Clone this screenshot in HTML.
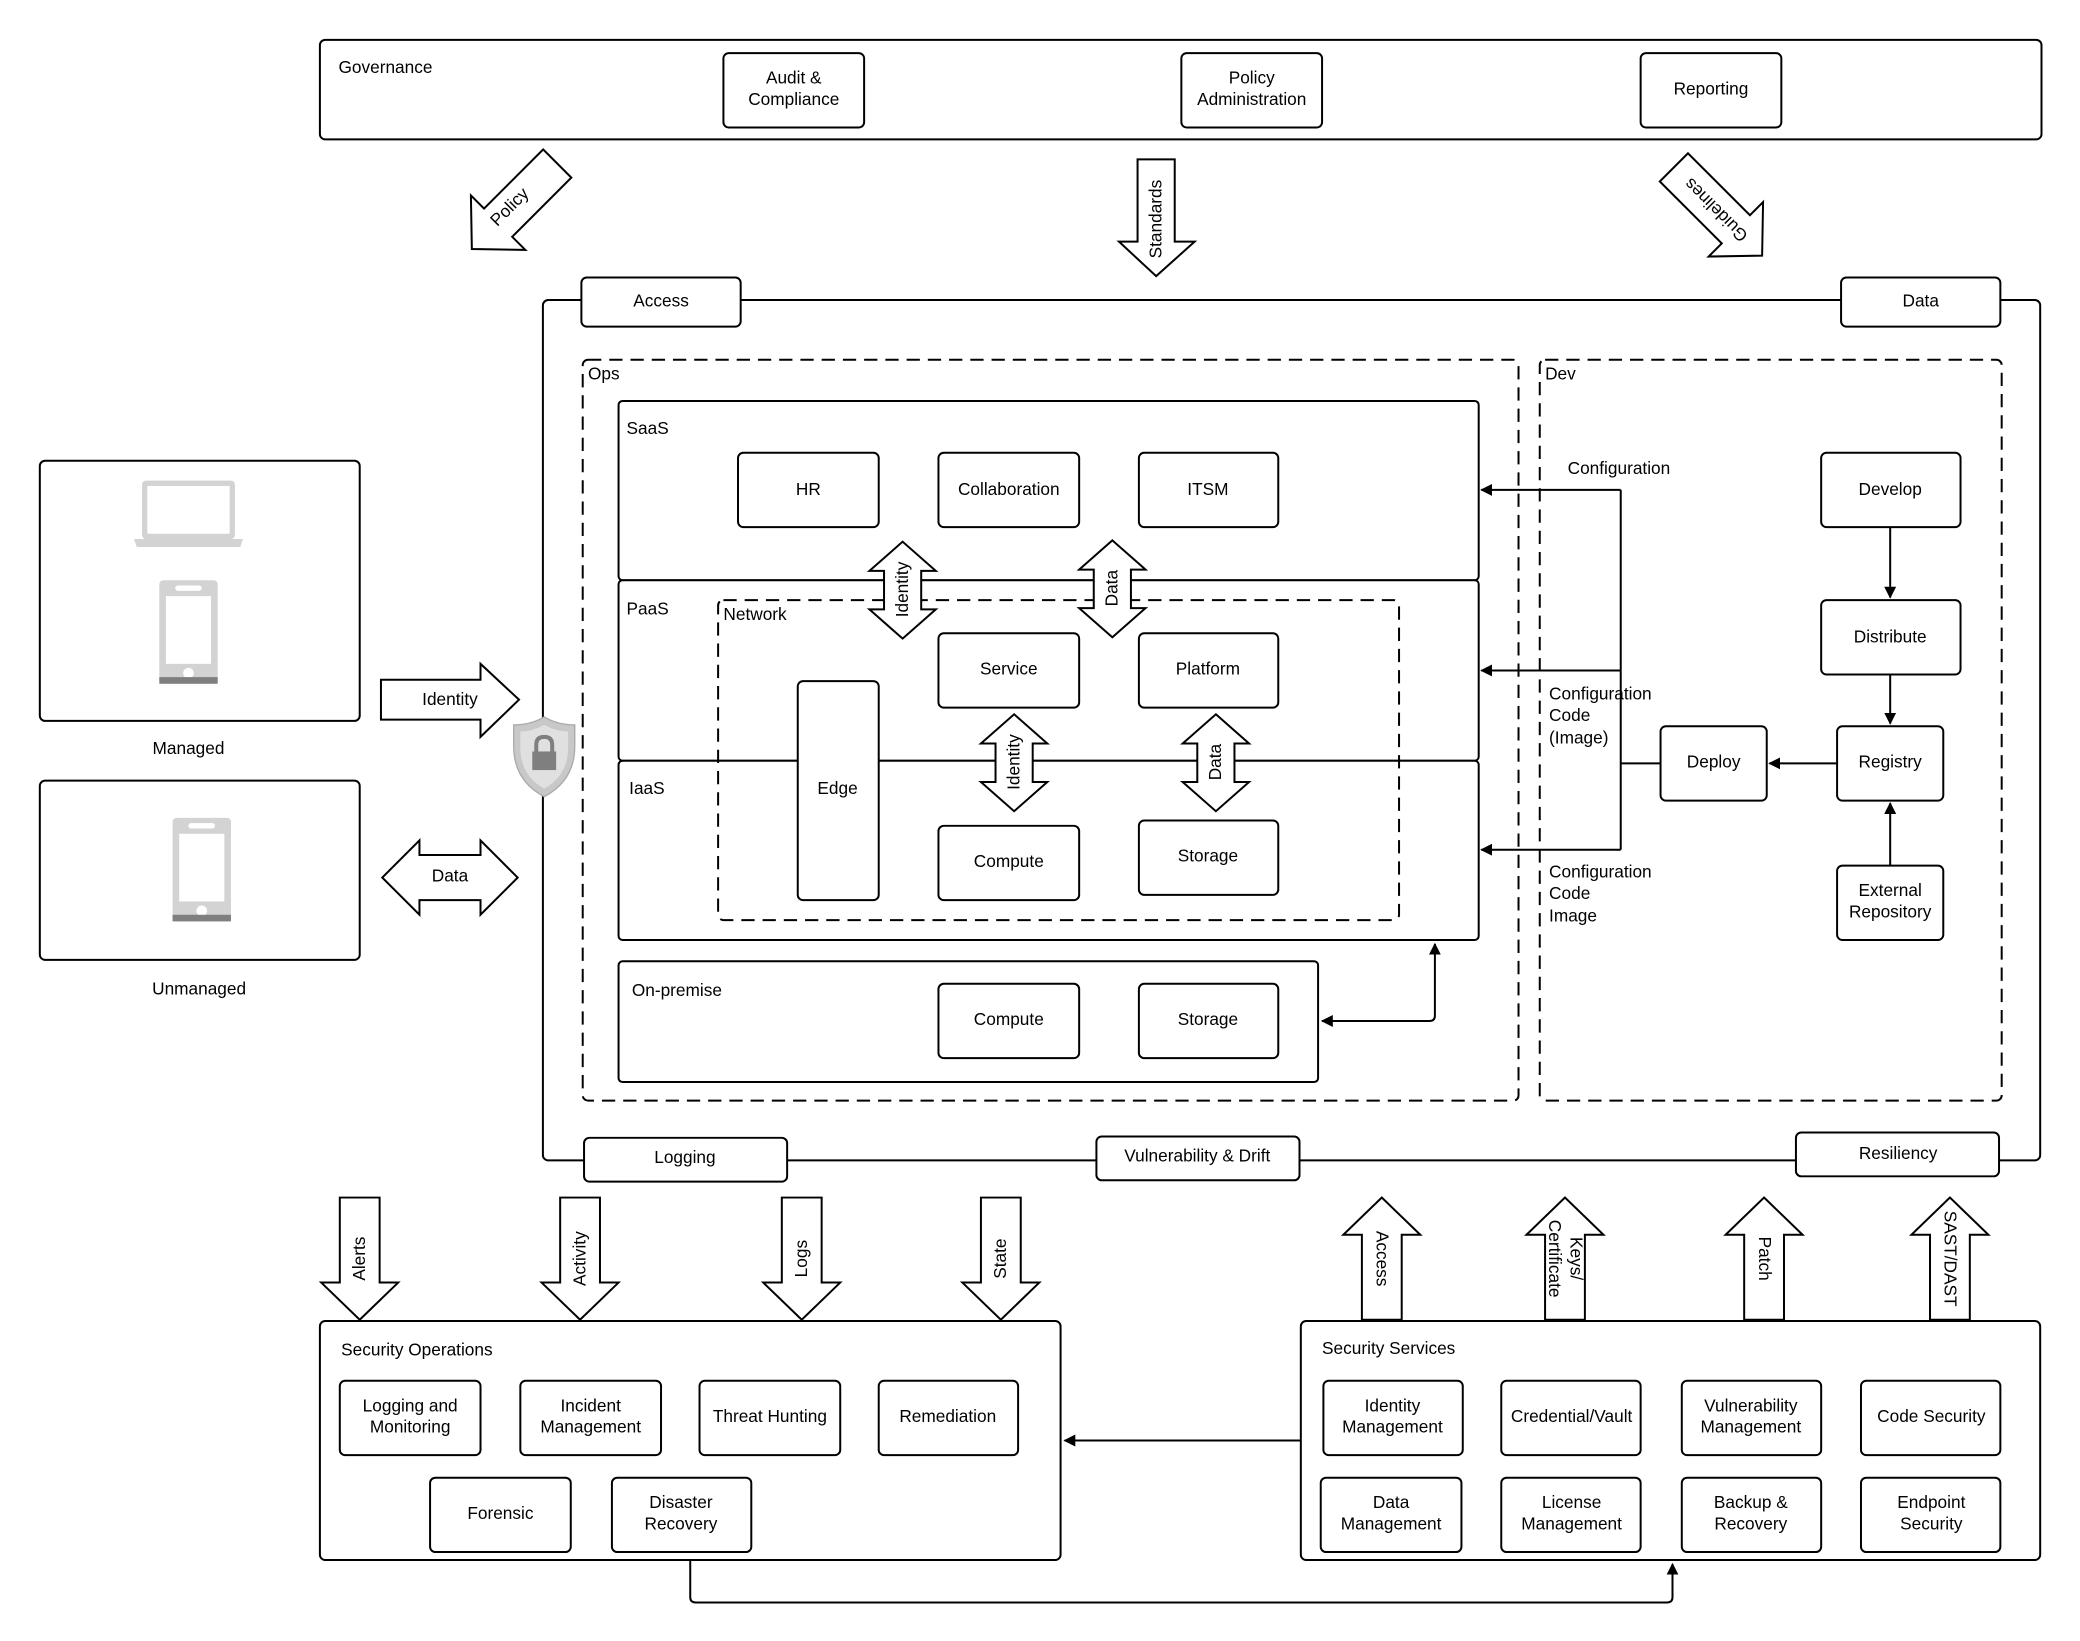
<!DOCTYPE html>
<html><head><meta charset="utf-8"><style>
html,body{margin:0;padding:0;background:#fff}
svg{display:block}
text{font-family:"Liberation Sans",Arial,sans-serif;font-size:13px;fill:#000}
</style></head><body>
<svg width="2080" height="1641" viewBox="0 0 1567 1236" preserveAspectRatio="none" xmlns="http://www.w3.org/2000/svg">
<defs>
<marker id="ah" viewBox="0 0 10 10" refX="9" refY="5" markerWidth="9" markerHeight="9" markerUnits="userSpaceOnUse" orient="auto"><path d="M0,0 L10,5 L0,10 Z" fill="#000"/></marker>
</defs>
<g fill="#fff" stroke="#000" stroke-width="1.5">
<rect x="241" y="30" width="1297" height="75" rx="4"/>
<rect x="545" y="40" width="106" height="56" rx="4"/>
<rect x="890" y="40" width="106" height="56" rx="4"/>
<rect x="1236" y="40" width="106" height="56" rx="4"/>
<g transform="translate(388,155) rotate(45)"><path d="M-15,-45 L15,-45 L15,18 L29,18 L0,46 L-29,18 L-15,18 Z"/></g>
<path d="M857,120 L885,120 L885,182 L900,182 L871,208 L843,182 L857,182 Z"/>
<g transform="translate(1295,160) rotate(-45)"><path d="M-15,-48 L15,-48 L15,18 L29,18 L0,46 L-29,18 L-15,18 Z"/></g>
<rect x="409" y="226" width="1128" height="648" rx="4"/>
<rect x="438" y="209" width="120" height="37" rx="4"/>
<rect x="1387" y="209" width="120" height="37" rx="4"/>
<rect x="440" y="857" width="153" height="33" rx="4"/>
<rect x="826" y="856" width="153" height="33" rx="4"/>
<rect x="1353" y="853" width="153" height="33" rx="4"/>
<rect x="439" y="271" width="705" height="558" rx="4" stroke-dasharray="10,6"/>
<rect x="1160" y="271" width="348" height="558" rx="4" stroke-dasharray="10,6"/>
<rect x="466" y="302" width="648" height="135" rx="3"/>
<rect x="466" y="437" width="648" height="136" rx="3"/>
<rect x="466" y="573" width="648" height="135" rx="3"/>
<rect x="556" y="341" width="106" height="56" rx="4"/>
<rect x="707" y="341" width="106" height="56" rx="4"/>
<rect x="858" y="341" width="105" height="56" rx="4"/>
<rect x="541" y="452" width="513" height="241" rx="4" stroke-dasharray="10,6" fill="none"/>
<rect x="601" y="513" width="61" height="165" rx="4"/>
<rect x="707" y="477" width="106" height="56" rx="4"/>
<rect x="858" y="477" width="105" height="56" rx="4"/>
<rect x="707" y="622" width="106" height="56" rx="4"/>
<rect x="858" y="618" width="105" height="56" rx="4"/>
<rect x="466" y="724" width="527" height="91" rx="3"/>
<rect x="707" y="741" width="106" height="56" rx="4"/>
<rect x="858" y="741" width="105" height="56" rx="4"/>
<path d="M680,408 L705,430 L694,430 L694,459 L705,459 L680,481 L655,459 L666,459 L666,430 L655,430 Z"/>
<path d="M838,407 L863,429 L852,429 L852,458 L863,458 L838,480 L813,458 L824,458 L824,429 L813,429 Z"/>
<path d="M764,538 L789,560 L778,560 L778,589 L789,589 L764,611 L739,589 L750,589 L750,560 L739,560 Z"/>
<path d="M916,538 L941,560 L930,560 L930,589 L941,589 L916,611 L891,589 L902,589 L902,560 L891,560 Z"/>
<rect x="1372" y="341" width="105" height="56" rx="4"/>
<rect x="1372" y="452" width="105" height="56" rx="4"/>
<rect x="1384" y="547" width="80" height="56" rx="4"/>
<rect x="1251" y="547" width="80" height="56" rx="4"/>
<rect x="1384" y="652" width="80" height="56" rx="4"/>
<rect x="30" y="347" width="241" height="196" rx="4"/>
<rect x="30" y="588" width="241" height="135" rx="4"/>
<path d="M287,512 L362,512 L362,500 L391,527 L362,555 L362,542 L287,542 Z"/>
<path d="M288,661 L316,633 L316,644 L362,644 L362,633 L390,661 L362,689 L362,678 L316,678 L316,689 Z"/>
<path d="M256,902 L286,902 L286,966 L300,966 L271,994 L242,966 L256,966 Z"/>
<path d="M422,902 L452,902 L452,966 L466,966 L437,994 L408,966 L422,966 Z"/>
<path d="M589,902 L619,902 L619,966 L633,966 L604,994 L575,966 L589,966 Z"/>
<path d="M739,902 L769,902 L769,966 L783,966 L754,994 L725,966 L739,966 Z"/>
<path d="M1026,994 L1056,994 L1056,930 L1070,930 L1041,902 L1012,930 L1026,930 Z"/>
<path d="M1164,994 L1194,994 L1194,930 L1208,930 L1179,902 L1150,930 L1164,930 Z"/>
<path d="M1314,994 L1344,994 L1344,930 L1358,930 L1329,902 L1300,930 L1314,930 Z"/>
<path d="M1454,994 L1484,994 L1484,930 L1498,930 L1469,902 L1440,930 L1454,930 Z"/>
<rect x="241" y="995" width="558" height="180" rx="4"/>
<rect x="980" y="995" width="557" height="180" rx="4"/>
<rect x="256" y="1040" width="106" height="56" rx="4"/>
<rect x="392" y="1040" width="106" height="56" rx="4"/>
<rect x="527" y="1040" width="106" height="56" rx="4"/>
<rect x="662" y="1040" width="105" height="56" rx="4"/>
<rect x="324" y="1113" width="106" height="56" rx="4"/>
<rect x="461" y="1113" width="105" height="56" rx="4"/>
<rect x="997" y="1040" width="105" height="56" rx="4"/>
<rect x="1131" y="1040" width="105" height="56" rx="4"/>
<rect x="1267" y="1040" width="105" height="56" rx="4"/>
<rect x="1402" y="1040" width="105" height="56" rx="4"/>
<rect x="995" y="1113" width="106" height="56" rx="4"/>
<rect x="1131" y="1113" width="105" height="56" rx="4"/>
<rect x="1267" y="1113" width="105" height="56" rx="4"/>
<rect x="1402" y="1113" width="105" height="56" rx="4"/>
</g>
<g fill="none" stroke="#000" stroke-width="1.5">
<path d="M1251,575 L1221,575"/>
<path d="M1221,369 L1221,640"/>
<path d="M1221,369 L1116,369" marker-end="url(#ah)"/>
<path d="M1221,505 L1116,505" marker-end="url(#ah)"/>
<path d="M1221,640 L1116,640" marker-end="url(#ah)"/>
<path d="M1424,397 L1424,450" marker-end="url(#ah)"/>
<path d="M1424,508 L1424,545" marker-end="url(#ah)"/>
<path d="M1384,575 L1333,575" marker-end="url(#ah)"/>
<path d="M1424,652 L1424,605" marker-end="url(#ah)"/>
<path d="M1081,740 L1081,711" marker-end="url(#ah)"/>
<path d="M1081,740 L1081,765 Q1081,769 1077,769 L996,769" marker-end="url(#ah)"/>
<path d="M980,1085 L802,1085" marker-end="url(#ah)"/>
<path d="M520,1175 L520,1203 Q520,1207 524,1207 L1256,1207 Q1260,1207 1260,1203 L1260,1178" marker-end="url(#ah)"/>
</g>
<g fill="#d3d3d3">
<rect x="107" y="362" width="70" height="44" rx="3"/>
<rect x="111" y="366" width="62" height="36" fill="#fff"/>
<path d="M101,406 L183,406 L181,412 L103,412 Z"/>
<rect x="120" y="437" width="44" height="78" rx="3"/>
<rect x="125" y="449" width="34" height="51" fill="#fff"/>
<rect x="132" y="441" width="20" height="4" rx="2" fill="#fff"/>
<circle cx="142" cy="507" r="4" fill="#fff"/>
<rect x="120" y="510" width="44" height="5" fill="#7f7f7f"/>
<rect x="130" y="616" width="44" height="78" rx="3"/>
<rect x="135" y="628" width="34" height="51" fill="#fff"/>
<rect x="142" y="620" width="20" height="4" rx="2" fill="#fff"/>
<circle cx="152" cy="686" r="4" fill="#fff"/>
<rect x="130" y="689" width="44" height="5" fill="#7f7f7f"/>
</g>
<path d="M410,540 Q420,546 433,546 L433,562 Q433,588 410,600 Q387,588 387,562 L387,546 Q400,546 410,540 Z" fill="#c8c8c8" stroke="#aaa" stroke-width="1"/>
<path d="M410,546 Q419,551 428,551 L428,563 Q428,584 410,594 Q392,584 392,563 L392,551 Q401,551 410,546 Z" fill="#e0e0e0"/>
<rect x="401" y="566" width="18" height="14" fill="#7f7f7f"/>
<path d="M404,566 L404,561 Q404,555 410,555 Q416,555 416,561 L416,566" fill="none" stroke="#7f7f7f" stroke-width="3"/>
<g>
<text x="255" y="55">Governance</text>
<text x="598" y="63" text-anchor="middle">Audit &amp;</text>
<text x="598" y="79" text-anchor="middle">Compliance</text>
<text x="943" y="63" text-anchor="middle">Policy</text>
<text x="943" y="79" text-anchor="middle">Administration</text>
<text x="1289" y="71" text-anchor="middle">Reporting</text>
<text transform="translate(384,156) rotate(-45)" text-anchor="middle" dy="4">Policy</text>
<text transform="translate(871,165) rotate(-90)" text-anchor="middle" dy="4">Standards</text>
<text transform="translate(1293,158) rotate(225)" text-anchor="middle" dy="4">Guidelines</text>
<text x="498" y="231" text-anchor="middle">Access</text>
<text x="1447" y="231" text-anchor="middle">Data</text>
<text x="443" y="286">Ops</text>
<text x="1164" y="286">Dev</text>
<text x="472" y="327">SaaS</text>
<text x="472" y="463">PaaS</text>
<text x="474" y="598">IaaS</text>
<text x="545" y="467">Network</text>
<text x="609" y="373" text-anchor="middle">HR</text>
<text x="760" y="373" text-anchor="middle">Collaboration</text>
<text x="910" y="373" text-anchor="middle">ITSM</text>
<text x="760" y="508" text-anchor="middle">Service</text>
<text x="910" y="508" text-anchor="middle">Platform</text>
<text x="631" y="598" text-anchor="middle">Edge</text>
<text x="760" y="653" text-anchor="middle">Compute</text>
<text x="910" y="649" text-anchor="middle">Storage</text>
<text x="476" y="750">On-premise</text>
<text x="760" y="772" text-anchor="middle">Compute</text>
<text x="910" y="772" text-anchor="middle">Storage</text>
<text transform="translate(680,444) rotate(-90)" text-anchor="middle" dy="4">Identity</text>
<text transform="translate(838,443) rotate(-90)" text-anchor="middle" dy="4">Data</text>
<text transform="translate(764,574) rotate(-90)" text-anchor="middle" dy="4">Identity</text>
<text transform="translate(916,574) rotate(-90)" text-anchor="middle" dy="4">Data</text>
<text x="1181" y="357">Configuration</text>
<text x="1167" y="527">Configuration</text>
<text x="1167" y="543">Code</text>
<text x="1167" y="560">(Image)</text>
<text x="1167" y="661">Configuration</text>
<text x="1167" y="677">Code</text>
<text x="1167" y="694">Image</text>
<text x="1424" y="373" text-anchor="middle">Develop</text>
<text x="1424" y="484" text-anchor="middle">Distribute</text>
<text x="1424" y="578" text-anchor="middle">Registry</text>
<text x="1291" y="578" text-anchor="middle">Deploy</text>
<text x="1424" y="675" text-anchor="middle">External</text>
<text x="1424" y="691" text-anchor="middle">Repository</text>
<text x="142" y="568" text-anchor="middle">Managed</text>
<text x="150" y="749" text-anchor="middle">Unmanaged</text>
<text x="339" y="531" text-anchor="middle">Identity</text>
<text x="339" y="664" text-anchor="middle">Data</text>
<text x="516" y="876" text-anchor="middle">Logging</text>
<text x="902" y="875" text-anchor="middle">Vulnerability &amp; Drift</text>
<text x="1430" y="873" text-anchor="middle">Resiliency</text>
<text transform="translate(271,948) rotate(-90)" text-anchor="middle" dy="4">Alerts</text>
<text transform="translate(437,948) rotate(-90)" text-anchor="middle" dy="4">Activity</text>
<text transform="translate(604,948) rotate(-90)" text-anchor="middle" dy="4">Logs</text>
<text transform="translate(754,948) rotate(-90)" text-anchor="middle" dy="4">State</text>
<text transform="translate(1041,948) rotate(90)" text-anchor="middle" dy="4">Access</text>
<text transform="translate(1171,948) rotate(90)" text-anchor="middle" dy="4">Certificate</text>
<text transform="translate(1187,948) rotate(90)" text-anchor="middle" dy="4">Keys/</text>
<text transform="translate(1329,948) rotate(90)" text-anchor="middle" dy="4">Patch</text>
<text transform="translate(1469,948) rotate(90)" text-anchor="middle" dy="4">SAST/DAST</text>
<text x="257" y="1021">Security Operations</text>
<text x="996" y="1020">Security Services</text>
<text x="309" y="1063" text-anchor="middle">Logging and</text>
<text x="309" y="1079" text-anchor="middle">Monitoring</text>
<text x="445" y="1063" text-anchor="middle">Incident</text>
<text x="445" y="1079" text-anchor="middle">Management</text>
<text x="580" y="1071" text-anchor="middle">Threat Hunting</text>
<text x="714" y="1071" text-anchor="middle">Remediation</text>
<text x="377" y="1144" text-anchor="middle">Forensic</text>
<text x="513" y="1136" text-anchor="middle">Disaster</text>
<text x="513" y="1152" text-anchor="middle">Recovery</text>
<text x="1049" y="1063" text-anchor="middle">Identity</text>
<text x="1049" y="1079" text-anchor="middle">Management</text>
<text x="1184" y="1071" text-anchor="middle">Credential/Vault</text>
<text x="1319" y="1063" text-anchor="middle">Vulnerability</text>
<text x="1319" y="1079" text-anchor="middle">Management</text>
<text x="1455" y="1071" text-anchor="middle">Code Security</text>
<text x="1048" y="1136" text-anchor="middle">Data</text>
<text x="1048" y="1152" text-anchor="middle">Management</text>
<text x="1184" y="1136" text-anchor="middle">License</text>
<text x="1184" y="1152" text-anchor="middle">Management</text>
<text x="1319" y="1136" text-anchor="middle">Backup &amp;</text>
<text x="1319" y="1152" text-anchor="middle">Recovery</text>
<text x="1455" y="1136" text-anchor="middle">Endpoint</text>
<text x="1455" y="1152" text-anchor="middle">Security</text>
</g>
</svg>
</body></html>
